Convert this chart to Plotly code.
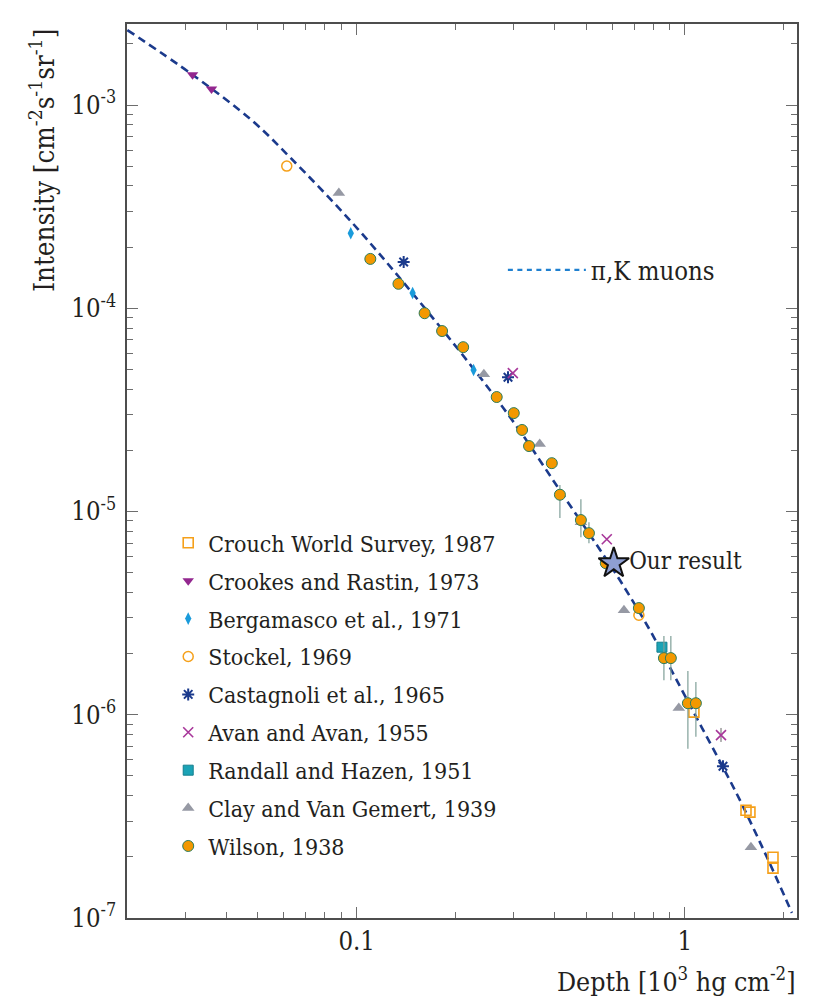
#Import packages
import plotly.graph_objects as go

#Values
#Depth in 10^3 hg cm^-2, intensity in cm^-2 s^-1 sr^-1

#pi,K muons expectation (dashed curve)
model_depth = [0.0200, 0.0316, 0.0482, 0.0625, 0.0966, 0.147, 0.226, 0.310, 0.416,
               0.539, 0.634, 0.782, 0.900, 1.096, 1.306, 1.471, 1.778, 2.119]
model_int = [2.34e-3, 1.41e-3, 8.34e-4, 5.55e-4, 2.65e-4, 1.20e-4, 5.08e-5, 2.57e-5, 1.27e-5,
             6.84e-6, 4.59e-6, 2.61e-6, 1.71e-6, 9.39e-7, 5.52e-7, 3.80e-7, 1.99e-7, 1.06e-7]

crouch_depth = [1.065, 1.535, 1.578, 1.855, 1.855]
crouch_int = [1.03e-6, 3.39e-7, 3.32e-7, 1.99e-7, 1.76e-7]

crookes_depth = [0.0316, 0.0361]
crookes_int = [1.41e-3, 1.20e-3]

bergamasco_depth = [0.0959, 0.148, 0.227]
bergamasco_int = [2.34e-4, 1.19e-4, 4.97e-5]

stockel_depth = [0.0612, 0.724]
stockel_int = [5.01e-4, 3.09e-6]

castagnoli_depth = [0.139, 0.289, 1.306]
castagnoli_int = [1.69e-4, 4.58e-5, 5.58e-7]

avan_depth = [0.299, 0.578, 1.288]
avan_int = [4.80e-5, 7.31e-6, 7.94e-7]
avan_err_up = [0, 0, 0.67e-7]
avan_err_dn = [0, 0, 0.59e-7]

randall_depth = [0.851]
randall_int = [2.15e-6]

clay_depth = [0.0882, 0.244, 0.361, 0.482, 0.652, 0.958, 1.589]
clay_int = [3.69e-4, 4.74e-5, 2.15e-5, 8.87e-6, 3.27e-6, 1.08e-6, 2.23e-7]

wilson_depth = [0.110, 0.134, 0.161, 0.182, 0.211, 0.267, 0.301, 0.319, 0.335, 0.393,
                0.416, 0.482, 0.510, 0.574, 0.724, 0.863, 0.906, 1.021, 1.080]
wilson_int = [1.75e-4, 1.32e-4, 9.46e-5, 7.73e-5, 6.44e-5, 3.66e-5, 3.05e-5, 2.52e-5, 2.10e-5, 1.73e-5,
              1.21e-5, 9.08e-6, 7.83e-6, 5.57e-6, 3.35e-6, 1.90e-6, 1.90e-6, 1.14e-6, 1.14e-6]
wilson_err_up = [0, 0, 0, 0, 0, 0, 0, 0, 0, 0,
                 1.4e-6, 2.4e-6, 1.04e-6, 0, 0, 5.4e-7, 5.4e-7, 5.0e-7, 3.1e-7]
wilson_err_dn = [0, 0, 0, 0, 0, 0, 0, 0, 0, 0,
                 2.8e-6, 1.6e-6, 0.85e-6, 0, 0, 4.2e-7, 4.2e-7, 4.6e-7, 3.6e-7]

our_depth = [0.607]
our_int = [5.57e-6]

x_ticks = [0.1, 1]
x_labels = ["0.1", "1"]
y_ticks = [1e-7, 1e-6, 1e-5, 1e-4, 1e-3]
y_labels = ["10<sup>-7</sup>", "10<sup>-6</sup>", "10<sup>-5</sup>", "10<sup>-4</sup>", "10<sup>-3</sup>"]

#No Times here, the condensed DejaVu serif is the closest in width
serif = "DejaVu Serif Condensed"
ink = "#231f20"

fig = go.Figure()

#Dashed curve (its key is drawn by a separate legend entry below)
fig.add_trace(go.Scatter(x=model_depth, y=model_int, mode="lines", line_shape="spline",
                         line=dict(color="#1b3a8c", width=2.6, dash="8px,5px"),
                         showlegend=False, hoverinfo="skip"))

#One entry per experiment: name, x, y, marker dict
sets = [
    ("Crouch World Survey, 1987", crouch_depth, crouch_int,
     dict(symbol="square-open", size=10, color="#f5a01a", line=dict(width=1.6))),
    ("Crookes and Rastin, 1973", crookes_depth, crookes_int,
     dict(symbol="triangle-down", size=10, color="#93278f")),
    ("Bergamasco et al., 1971", bergamasco_depth, bergamasco_int,
     dict(symbol="diamond-tall", size=9, color="#1a9bdb")),
    ("Stockel, 1969", stockel_depth, stockel_int,
     dict(symbol="circle-open", size=10, color="#f5a01a", line=dict(width=1.5))),
    ("Castagnoli et al., 1965", castagnoli_depth, castagnoli_int,
     dict(symbol="asterisk-open", size=10, color="#1b3a8c", line=dict(width=2, color="#1b3a8c"))),
    ("Avan and Avan, 1955", avan_depth, avan_int,
     dict(symbol="x-thin-open", size=10, color="#a8379a", line=dict(width=1.6, color="#a8379a"))),
    ("Randall and Hazen, 1951", randall_depth, randall_int,
     dict(symbol="square", size=10, color="#1ba3b6", line=dict(width=1, color="#157f8e"))),
    ("Clay and Van Gemert, 1939", clay_depth, clay_int,
     dict(symbol="triangle-up", size=11, color="#9699a4")),
    ("Wilson, 1938", wilson_depth, wilson_int,
     dict(symbol="circle", size=11, color="#f39800", line=dict(width=1, color="#2e7d5b"))),
]

for i, (name, xs, ys, mk) in enumerate(sets):
    err = None
    if name.startswith("Avan"):
        err = dict(type="data", symmetric=False, array=avan_err_up, arrayminus=avan_err_dn,
                   color="#666666", thickness=1, width=0)
    if name.startswith("Wilson"):
        err = dict(type="data", symmetric=False, array=wilson_err_up, arrayminus=wilson_err_dn,
                   color="#7f9f98", thickness=1.2, width=0)
    fig.add_trace(go.Scatter(x=xs, y=ys, mode="markers", name=name, marker=mk,
                             error_y=err, legendgroup=f"g{i}"))

#Our result
fig.add_trace(go.Scatter(x=our_depth, y=our_int, mode="markers+text", text=["Our result"],
                         textposition="middle right",
                         textfont=dict(family=serif, size=24, color=ink),
                         marker=dict(symbol="star", size=23, color="#8e9fd3",
                                     line=dict(width=2, color="#111111")),
                         showlegend=False))

#Legend key for the curve
fig.add_trace(go.Scatter(x=[None], y=[None], mode="lines", name="\u03c0,K muons",
                         line=dict(color="#1f80d0", width=2.4, dash="5px,4.5px"),
                         legend="legend2"))

axis_common = dict(type="log", showline=True, linecolor="#4d4d4d", linewidth=1.5, mirror="ticks",
                   ticks="inside", ticklen=11, tickcolor="#6d6d6d", tickwidth=1,
                   showgrid=False, zeroline=False, tickmode="array", automargin=False,
                   tickfont=dict(family=serif, size=25.5, color=ink),
                   minor=dict(ticks="inside", ticklen=6, tickcolor="#6d6d6d", dtick="D1", showgrid=False))

#The page body adds 8px around the figure, so the figure is 8px smaller on each side
fig.update_layout(
    width=822, height=990,
    margin=dict(l=119, r=33, t=16, b=80),
    paper_bgcolor="white", plot_bgcolor="white",
    font=dict(family=serif, color=ink),
    xaxis=dict(axis_common, range=[-1.700, 0.3415], tickvals=x_ticks, ticktext=x_labels),
    yaxis=dict(axis_common, range=[-7, -2.601], tickvals=y_ticks, ticktext=y_labels,
               ticklabelstandoff=4),
    legend=dict(x=0.0615, y=0.4437, xanchor="left", yanchor="top", bgcolor="rgba(0,0,0,0)",
                font=dict(family=serif, size=23, color=ink), tracegroupgap=5,
                itemclick=False),
    legend2=dict(x=0.561, y=0.7245, xanchor="left", yanchor="middle", bgcolor="rgba(0,0,0,0)",
                 font=dict(family=serif, size=25.5, color=ink), itemwidth=78),
    annotations=[
        dict(text="Intensity [cm<sup>-2</sup>s<sup>-1</sup>sr<sup>-1</sup>]", textangle=-90,
             xref="paper", yref="paper", x=-0.127, y=0.848, xanchor="center", yanchor="middle",
             showarrow=False, font=dict(family=serif, size=27.5, color=ink)),
        dict(text="Depth [10<sup>3</sup> hg cm<sup>-2</sup>]",
             xref="paper", yref="paper", x=1.0, y=-0.069, xanchor="right", yanchor="middle",
             showarrow=False, font=dict(family=serif, size=26.5, color=ink)),
    ],
)

fig.write_html("out.html")
